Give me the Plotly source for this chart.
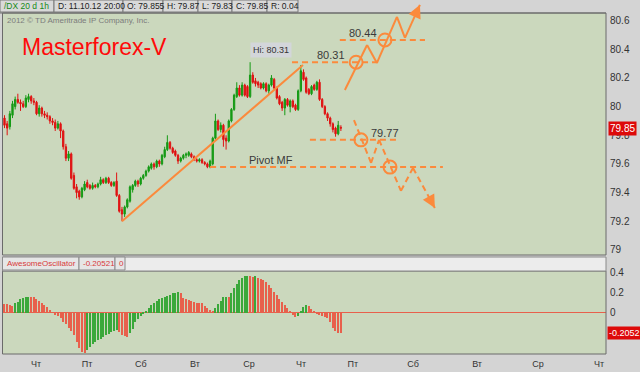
import plotly.graph_objects as go

# ---------------- data ----------------
opens = [79.92,79.88,79.86,79.94,80.00,80.05,80.03,80.02,80.00,80.05,
         80.07,80.04,80.03,79.95,79.99,79.95,79.94,79.93,79.90,79.89,
         79.85,79.88,79.83,79.72,79.64,79.67,79.52,79.44,79.41,79.37,
         79.42,79.47,79.45,79.43,79.45,79.44,79.46,79.49,79.47,79.50,
         79.47,79.45,79.48,79.38,79.28,79.25,79.30,79.34,79.42,79.45,
         79.48,79.46,79.50,79.52,79.55,79.57,79.60,79.58,79.62,79.60,
         79.65,79.70,79.75,79.71,79.69,79.66,79.62,79.64,79.66,79.66,
         79.67,79.65,79.63,79.62,79.63,79.61,79.60,79.58,79.60,79.78,
         79.90,79.84,79.87,79.78,79.76,79.90,79.98,80.07,80.13,80.08,
         80.15,80.14,80.07,80.22,80.18,80.17,80.16,80.13,80.16,80.11,
         80.15,80.19,80.13,80.07,80.03,79.99,80.05,80.00,80.04,80.01,
         79.98,80.11,80.24,80.20,80.12,80.09,80.15,80.12,80.17,80.05,
         80.00,79.95,79.92,79.88,79.85,79.81,79.855]
highs = [79.94,79.90,79.97,80.04,80.07,80.09,80.05,80.04,80.08,80.09,
         80.08,80.06,80.04,80.01,80.00,79.97,79.96,79.94,79.92,79.91,
         79.90,79.89,79.84,79.74,79.69,79.68,79.54,79.46,79.42,79.44,
         79.48,79.49,79.46,79.47,79.46,79.47,79.51,79.50,79.51,79.51,
         79.48,79.48,79.54,79.39,79.30,79.31,79.36,79.45,79.46,79.49,
         79.49,79.51,79.53,79.56,79.59,79.61,79.61,79.63,79.63,79.67,
         79.72,79.80,79.76,79.72,79.70,79.67,79.65,79.67,79.68,79.69,
         79.68,79.66,79.64,79.64,79.64,79.62,79.61,79.63,79.79,79.95,
         79.91,79.89,79.88,79.80,79.91,79.99,80.09,80.17,80.15,80.17,
         80.16,80.15,80.31,80.24,80.20,80.18,80.17,80.17,80.17,80.16,
         80.22,80.20,80.14,80.08,80.04,80.06,80.06,80.05,80.05,80.02,
         80.12,80.29,80.26,80.21,80.13,80.15,80.16,80.18,80.19,80.06,
         80.01,79.96,79.93,79.89,79.86,79.90,79.87]
lows = [79.85,79.80,79.84,79.92,79.98,80.02,79.97,79.99,79.99,80.03,
        80.02,80.01,79.94,79.93,79.93,79.92,79.91,79.88,79.87,79.83,
        79.84,79.78,79.70,79.62,79.62,79.49,79.42,79.36,79.35,79.36,
        79.41,79.43,79.42,79.42,79.43,79.43,79.45,79.46,79.46,79.46,
        79.44,79.44,79.37,79.26,79.20,79.23,79.29,79.33,79.40,79.44,
        79.44,79.45,79.49,79.51,79.54,79.56,79.56,79.57,79.58,79.59,
        79.64,79.69,79.70,79.67,79.65,79.60,79.61,79.63,79.64,79.65,
        79.64,79.62,79.61,79.61,79.60,79.59,79.57,79.57,79.59,79.77,
        79.83,79.82,79.72,79.70,79.75,79.89,79.97,80.06,80.07,80.07,
        80.07,80.06,80.06,80.16,80.14,80.13,80.12,80.12,80.10,80.09,
        80.14,80.12,80.05,80.01,79.97,79.94,80.00,79.96,79.99,79.97,
        79.97,80.10,80.18,80.09,80.08,80.08,80.11,80.11,80.04,79.99,
        79.94,79.90,79.86,79.82,79.79,79.80,79.83]
closes = [79.87,79.85,79.95,80.02,80.05,80.03,80.02,80.00,80.06,80.07,
          80.04,80.03,79.95,79.99,79.95,79.94,79.93,79.90,79.89,79.85,
          79.88,79.83,79.72,79.64,79.67,79.50,79.43,79.40,79.37,79.43,
          79.46,79.44,79.43,79.45,79.44,79.46,79.49,79.47,79.50,79.47,
          79.45,79.47,79.38,79.27,79.25,79.30,79.35,79.44,79.45,79.48,
          79.46,79.50,79.52,79.55,79.58,79.60,79.58,79.62,79.60,79.66,
          79.70,79.75,79.71,79.68,79.66,79.62,79.64,79.66,79.67,79.68,
          79.65,79.63,79.62,79.63,79.61,79.60,79.58,79.62,79.78,79.90,
          79.84,79.87,79.77,79.76,79.90,79.98,80.08,80.13,80.08,80.15,
          80.08,80.07,80.22,80.17,80.16,80.15,80.13,80.16,80.11,80.15,
          80.20,80.13,80.06,80.02,79.99,80.05,80.01,80.04,80.00,79.98,
          80.11,80.25,80.19,80.10,80.09,80.14,80.12,80.17,80.05,80.00,
          79.95,79.92,79.88,79.84,79.81,79.87,79.85]
ao = [0.087,0.085,0.077,0.072,0.095,0.11,0.135,0.148,0.155,0.16,
      0.158,0.155,0.14,0.115,0.10,0.08,0.055,0.03,0.005,-0.02,
      -0.035,-0.055,-0.09,-0.11,-0.15,-0.18,-0.22,-0.29,-0.35,-0.39,
      -0.40,-0.37,-0.34,-0.31,-0.29,-0.275,-0.265,-0.245,-0.225,-0.21,
      -0.195,-0.185,-0.17,-0.19,-0.22,-0.23,-0.24,-0.20,-0.16,-0.09,
      -0.06,-0.035,-0.005,0.02,0.045,0.08,0.10,0.12,0.135,0.145,
      0.155,0.17,0.18,0.195,0.20,0.205,0.195,0.15,0.135,0.125,
      0.115,0.11,0.10,0.098,0.095,0.07,0.045,0.025,0.02,0.045,
      0.09,0.12,0.155,0.16,0.155,0.20,0.25,0.29,0.325,0.35,
      0.365,0.37,0.365,0.36,0.368,0.35,0.34,0.33,0.305,0.28,
      0.25,0.21,0.18,0.14,0.11,0.08,0.045,0.01,-0.02,-0.045,
      -0.03,0.02,0.06,0.075,0.07,0.04,0.01,-0.01,-0.02,-0.035,
      -0.045,-0.055,-0.09,-0.15,-0.18,-0.20,-0.2052]
bar_index = list(range(len(closes)))

day_tick_pos = [11.8, 30.9, 51.1, 71.3, 91.6, 111.1, 130.5, 153.0, 177.0, 199.8, 222.7]
day_tick_text = ["Чт", "Пт", "Сб", "Вт", "Ср", "Чт", "Пт", "Сб", "Вт", "Ср", "Чт"]
price_ticks = [79.0, 79.2, 79.4, 79.6, 79.8, 80.0, 80.2, 80.4, 80.6]
ao_ticks = [0, 0.2, 0.4]

header_fields = ["/DX 20 d 1h", "D: 11.10.12 20:00", "O: 79.855", "H: 79.87",
                 "L: 79.83", "C: 79.85", "R: 0.04"]
osc_fields = ["AwesomeOscillator", "-0.20521", "0"]

# analyst drawing (bar index, price)
trend_line = [(44.0, 79.20), (111.8, 80.29)]
levels = [  # (price, x_start, x_end, label, label_x)
    (80.31, 107.7, 140.6, "80.31", 122.3),
    (80.465, 125.6, 157.5, "80.44", 134.3),
    (79.768, 114.4, 147.4, "79.77", 142.5),
    (79.578, 77.0, 164.2, "Pivot MF", 99.8),
]
up_path = [(127.5, 80.116), (135.8, 80.43), (139.5, 80.305), (147.0, 80.626),
           (150.0, 80.48), (155.6, 80.71)]
down_path = [(130.9, 79.906), (137.3, 79.607), (140.3, 79.768), (148.5, 79.412),
             (153.0, 79.572), (161.2, 79.293)]
circles = [(131.7, 80.31), (142.5, 80.465), (133.5, 79.768), (144.4, 79.578)]

# ---------------- style ----------------
W, H = 640, 372
GREEN = "#159a15"
RED = "#e01212"
AO_GREEN = "#3aa83a"
AO_RED = "#e8604c"
ORANGE = "#fb8a3c"
PLOT_BG = "#cbd8bd"
CHROME = "#d4d4d4"
FONT = "Liberation Sans, Arial, sans-serif"


def fx(px):
    return px / W


def fy(py):
    return 1 - py / H


fig = go.Figure()
fig.add_trace(go.Candlestick(
    x=bar_index, open=opens, high=highs, low=lows, close=closes,
    increasing=dict(line=dict(color=GREEN, width=1), fillcolor=GREEN),
    decreasing=dict(line=dict(color=RED, width=1), fillcolor=RED),
    whiskerwidth=0, xaxis="x", yaxis="y", showlegend=False, hoverinfo="skip"))

ao_colors = [AO_RED if i == 0 or ao[i] < ao[i - 1] else AO_GREEN for i in range(len(ao))]
fig.add_trace(go.Bar(x=bar_index, y=ao, marker=dict(color=ao_colors, line=dict(width=0)),
                     width=0.42, xaxis="x", yaxis="y2", showlegend=False, hoverinfo="skip"))

shapes = []
annotations = []

# header strip
shapes.append(dict(type="rect", xref="paper", yref="paper", x0=0, x1=1, y0=fy(13), y1=1,
                   fillcolor=CHROME, line=dict(width=0), layer="above"))
edges = [0, 54, 123, 163, 198, 232, 267, 298]
for k, txt in enumerate(header_fields):
    shapes.append(dict(type="rect", xref="paper", yref="paper", x0=fx(edges[k]), x1=fx(edges[k + 1]),
                       y0=fy(12), y1=fy(0), fillcolor="#d9d9d9",
                       line=dict(color="#7a7a7a", width=1), layer="above"))
    annotations.append(dict(xref="paper", yref="paper", x=fx(edges[k] + 2), y=fy(6.5), text=txt,
                            showarrow=False, xanchor="left", yanchor="middle",
                            font=dict(family=FONT, size=8.5,
                                      color="#168a16" if k == 0 else "#222222")))
shapes.append(dict(type="line", xref="paper", yref="paper", x0=0, x1=fx(606), y0=fy(13), y1=fy(13),
                   line=dict(color="#6e6e6e", width=1), layer="above"))

# panel borders
shapes.append(dict(type="rect", xref="paper", yref="paper", x0=fx(2.5), x1=fx(606), y0=fy(255), y1=fy(13),
                   line=dict(color="#6a6a6a", width=1), layer="above"))
shapes.append(dict(type="rect", xref="paper", yref="paper", x0=fx(2.5), x1=fx(606), y0=fy(354), y1=fy(271),
                   line=dict(color="#6a6a6a", width=1), layer="above"))
# oscillator header
shapes.append(dict(type="rect", xref="paper", yref="paper", x0=fx(2.5), x1=fx(606), y0=fy(271), y1=fy(257),
                   fillcolor="#ececec", line=dict(color="#8a8a8a", width=1), layer="above"))
oedges = [2.5, 79, 115, 125]
for k, txt in enumerate(osc_fields):
    shapes.append(dict(type="rect", xref="paper", yref="paper", x0=fx(oedges[k]), x1=fx(oedges[k + 1]),
                       y0=fy(270), y1=fy(257), fillcolor="#e6e6e6",
                       line=dict(color="#8a8a8a", width=1), layer="above"))
    annotations.append(dict(xref="paper", yref="paper", x=fx(oedges[k] + 2), y=fy(263.5), text=txt,
                            showarrow=False, xanchor="left", yanchor="middle",
                            font=dict(family=FONT, size=8, color="#d83a3a")))

# analyst drawing
shapes.append(dict(type="line", xref="x", yref="y", x0=trend_line[0][0], y0=trend_line[0][1],
                   x1=trend_line[1][0], y1=trend_line[1][1], line=dict(color=ORANGE, width=2),
                   layer="above"))
for price, xs, xe, label, lx in levels:
    shapes.append(dict(type="line", xref="x", yref="y", x0=xs, x1=xe, y0=price, y1=price,
                       line=dict(color=ORANGE, width=2, dash="6px,4px"), layer="above"))
    annotations.append(dict(xref="x", yref="y", x=lx, y=price, text=label, showarrow=False,
                            xanchor="center", yanchor="bottom", yshift=-1,
                            font=dict(family=FONT, size=11, color="#3a3a3a")))
for (x0, y0), (x1, y1) in zip(up_path[:-1], up_path[1:]):
    shapes.append(dict(type="line", xref="x", yref="y", x0=x0, y0=y0, x1=x1, y1=y1,
                       line=dict(color=ORANGE, width=2), layer="above"))
for (x0, y0), (x1, y1) in zip(down_path[:-1], down_path[1:]):
    shapes.append(dict(type="line", xref="x", yref="y", x0=x0, y0=y0, x1=x1, y1=y1,
                       line=dict(color=ORANGE, width=2, dash="6px,4px"), layer="above"))
for cx, cy in circles:
    shapes.append(dict(type="circle", xref="x", yref="y", xsizemode="pixel", ysizemode="pixel",
                       xanchor=cx, yanchor=cy, x0=-6.5, x1=6.5, y0=-6.5, y1=6.5,
                       line=dict(color=ORANGE, width=2), layer="above"))
# arrow heads
annotations.append(dict(xref="x", yref="y", x=up_path[-1][0], y=up_path[-1][1], ax=-4, ay=9,
                        text="", showarrow=True, arrowhead=2, arrowsize=1.3, arrowwidth=2,
                        arrowcolor=ORANGE))
annotations.append(dict(xref="x", yref="y", x=down_path[-1][0], y=down_path[-1][1], ax=-5, ay=-9,
                        text="", showarrow=True, arrowhead=2, arrowsize=1.3, arrowwidth=2,
                        arrowcolor=ORANGE))

# high bubble
hi_idx = highs.index(max(highs))
annotations.append(dict(xref="x", yref="y", x=hi_idx, y=max(highs), text="Hi: %.2f" % max(highs),
                        showarrow=False, xanchor="left", yanchor="bottom", yshift=4,
                        bgcolor="#d3d6da", borderpad=2,
                        font=dict(family=FONT, size=9, color="#333333")))

# titles
annotations.append(dict(xref="paper", yref="paper", x=fx(5), y=fy(20.5),
                        text="2012 © TD Ameritrade IP Company, Inc.", showarrow=False,
                        xanchor="left", yanchor="middle",
                        font=dict(family=FONT, size=8, color="#7c7c7c")))
annotations.append(dict(xref="paper", yref="paper", x=fx(20), y=fy(46.5), text="Masterforex-V",
                        showarrow=False, xanchor="left", yanchor="middle",
                        font=dict(family=FONT, size=23, color="#ff0a0a")))

# value tags
annotations.append(dict(xref="paper", yref="y", x=fx(608), y=closes[-1], text="%.2f" % closes[-1],
                        showarrow=False, xanchor="left", yanchor="middle", bgcolor="#dd0a0a",
                        borderpad=1, font=dict(family=FONT, size=10, color="white")))
annotations.append(dict(xref="paper", yref="y2", x=fx(607), y=ao[-1], text="%.4f" % ao[-1],
                        showarrow=False, xanchor="left", yanchor="middle", bgcolor="#dd0a0a",
                        borderpad=1, font=dict(family=FONT, size=9, color="white")))

fig.update_layout(
    width=W, height=H, template="none",
    margin=dict(l=0, r=0, t=0, b=0, pad=0),
    paper_bgcolor=CHROME, plot_bgcolor=PLOT_BG,
    showlegend=False, bargap=0,
    xaxis=dict(domain=[fx(3), fx(606)], range=[-0.56, 225.3], anchor="y2",
               tickvals=day_tick_pos, ticktext=day_tick_text, ticks="", showgrid=False,
               zeroline=False, showline=False, automargin=False, ticklabelstandoff=3,
               tickfont=dict(family=FONT, size=9, color="#333333"),
               rangeslider=dict(visible=False)),
    yaxis=dict(domain=[fy(255), 1], range=[78.9645, 80.744], side="right", anchor="x",
               tickvals=price_ticks, ticktext=["%g" % v for v in price_ticks],
               ticks="outside", ticklen=1, tickcolor=CHROME, showgrid=False, zeroline=False,
               showline=False, automargin=False,
               tickfont=dict(family=FONT, size=10, color="#333333")),
    yaxis2=dict(domain=[fy(354), fy(271)], range=[-0.413, 0.417], side="right", anchor="x",
                tickvals=ao_ticks, ticktext=["%g" % v for v in ao_ticks],
                ticks="outside", ticklen=1, tickcolor=CHROME, showgrid=False,
                zeroline=True, zerolinecolor="#e8604c", zerolinewidth=1,
                showline=False, automargin=False,
                tickfont=dict(family=FONT, size=10, color="#333333")),
    shapes=shapes, annotations=annotations,
)

fig.write_html("out.html", config={"displayModeBar": False},
               post_script="document.body.style.margin='0';")
